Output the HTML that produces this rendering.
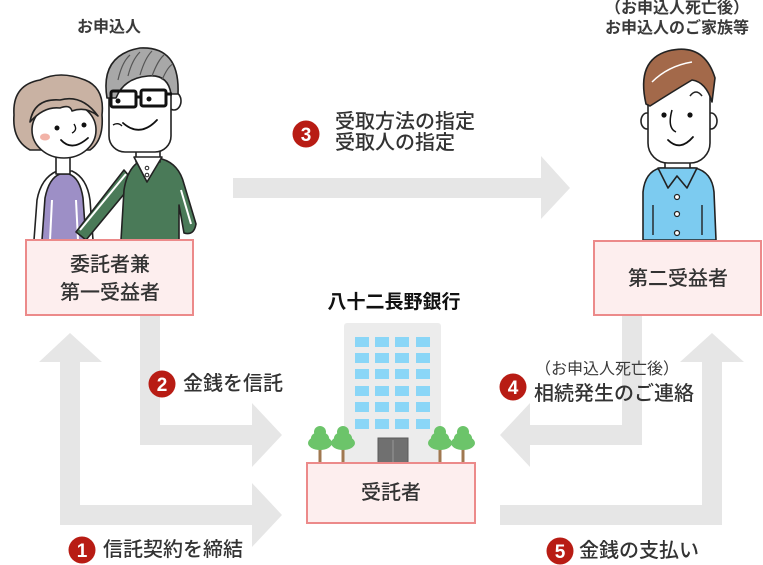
<!DOCTYPE html>
<html>
<head>
<meta charset="utf-8">
<style>
  html,body{margin:0;padding:0;background:#fff;}
  #wrap{position:relative;width:763px;height:565px;overflow:hidden;background:#fff;
    font-family:"Liberation Sans","Noto Sans CJK JP",sans-serif;color:#333;}
  svg{position:absolute;left:0;top:0;}
  .t{position:absolute;white-space:nowrap;font-size:20px;line-height:20px;color:#333;font-weight:500;}
  .s{position:absolute;white-space:nowrap;font-size:16px;line-height:16px;color:#3a3a3a;font-weight:bold;}
  .c{text-align:center;}
</style>
</head>
<body>
<div id="wrap">
<svg width="763" height="565" viewBox="0 0 763 565">
  <!-- gray arrows -->
  <g fill="#e6e6e6">
    <polygon points="233,178 541,178 541,156 570,188 541,219 541,198 233,198"/>
    <polygon points="140,316 160,316 160,425 252,425 252,403 282,435 252,467 252,445 140,445"/>
    <polygon points="70,333 102,362 80,362 80,505 252,505 252,483 282,515 252,547 252,525 60,525 60,362 39,362"/>
    <polygon points="622,316 642,316 642,445 530,445 530,467 500,435 530,403 530,425 622,425"/>
    <polygon points="500,505 702,505 702,362 680,362 712,333 744,362 722,362 722,525 500,525"/>
  </g>

  <!-- Woman -->
  <g stroke="#222" stroke-width="1.6" stroke-linejoin="round">
    <path d="M34,240 L37,200 Q41,178 57,171 L72,171 Q87,178 90,200 L93,240 Z" fill="#fff"/>
    <path d="M42,240 L45,198 Q49,178 60,174 L69,174 Q80,178 83,198 L86,240 Z" fill="#9d8fc6"/>
    <path d="M50,240 L52,200" stroke="#fff" stroke-width="2"/>
    <path d="M78,240 L76,200" stroke="#fff" stroke-width="2"/>
    <rect x="56" y="152" width="14" height="22" fill="#fff"/>
    <path d="M14,115 Q12,85 40,80 Q60,70 85,80 Q105,88 102,115 Q104,140 90,150 L30,150 Q12,140 14,115 Z" fill="#c9b2a3"/>
    <ellipse cx="64" cy="130" rx="32" ry="28" fill="#fff"/>
    <path d="M30,122 Q34,98 60,100 Q82,94 98,116 Q86,106 72,111 Q70,104 60,108 Q44,106 30,122 Z" fill="#c9b2a3"/>
  </g>
  <ellipse cx="45" cy="137" rx="5" ry="3.5" fill="#f2b3a8"/>
  <circle cx="57" cy="128" r="2.5" fill="#111"/>
  <circle cx="84" cy="125" r="2.5" fill="#111"/>
  <path d="M61,140 Q72,152 88,138" fill="none" stroke="#111" stroke-width="1.8" stroke-linecap="round"/>
  <path d="M74,124 Q78,130 72,133" fill="none" stroke="#111" stroke-width="1.4"/>

  <!-- Man -->
  <g stroke="#222" stroke-width="1.6" stroke-linejoin="round">
    <path d="M76,232 L124,170 L134,182 L86,240 Z" fill="#4a7a58"/>
    <path d="M80,230 L126,174" stroke="#fff" stroke-width="2"/>
    <path d="M121,240 L124,190 Q128,164 145,159 L162,159 Q179,164 184,184 L196,224 Q194,236 184,233 L179,205 L179,240 Z" fill="#4a7a58"/>
    <path d="M181,190 L191,224" stroke="#fff" stroke-width="2"/>
    <rect x="136" y="142" width="24" height="20" fill="#fff"/>
    <path d="M134,157 L147,182 L162,157 Z" fill="#fff"/>
    <ellipse cx="174" cy="101" rx="7" ry="9" fill="#fff"/>
    <rect x="109" y="68" width="62" height="84" rx="16" fill="#fff"/>
    <path d="M107,98 Q100,55 140,48 Q180,46 178,94 L171,94 Q168,74 148,76 Q124,78 116,98 Z" fill="#a8a8a8"/>
  </g>
  <g stroke="#555" stroke-width="1.2" fill="none">
    <path d="M118,80 Q122,62 130,55"/><path d="M128,76 Q132,60 140,52"/>
    <path d="M140,75 Q145,58 152,51"/><path d="M152,76 Q158,60 164,55"/>
    <path d="M162,80 Q168,66 173,64"/>
  </g>
  <g stroke="#111" stroke-width="3" fill="none">
    <rect x="111" y="91" width="25" height="16" rx="2"/>
    <rect x="141" y="90" width="25" height="16" rx="2"/>
    <path d="M136,97 L141,97"/><path d="M166,94 L172,94"/>
  </g>
  <circle cx="118" cy="101" r="2.5" fill="#111"/>
  <circle cx="149" cy="99" r="2.5" fill="#111"/>
  <path d="M123,123 Q140,138 157,120" fill="none" stroke="#111" stroke-width="1.8" stroke-linecap="round"/>
  <path d="M113,125 Q118,122 122,126" fill="none" stroke="#111" stroke-width="1.4"/>
  <circle cx="147" cy="168" r="1.8" fill="#fff" stroke="#222"/>
  <circle cx="147" cy="175" r="1.8" fill="#fff" stroke="#222"/>

  <!-- Young man -->
  <g stroke="#222" stroke-width="1.6" stroke-linejoin="round">
    <path d="M643,240 L643,192 Q645,172 660,168 L695,168 Q712,172 714,192 L716,240 Z" fill="#7ccbf0"/>
    <rect x="665" y="150" width="25" height="20" fill="#fff"/>
    <path d="M658,168 L668,188 L677,176 L687,188 L697,168 Z" fill="#7ccbf0"/>
    <ellipse cx="647" cy="121" rx="6" ry="8" fill="#fff"/>
    <ellipse cx="711" cy="121" rx="6" ry="8" fill="#fff"/>
    <rect x="648" y="60" width="62" height="103" rx="20" fill="#fff"/>
    <path d="M646,104 Q636,60 668,51 Q704,42 715,78 L712,102 Q706,82 692,80 Q672,92 650,106 Z" fill="#a3694a"/>
    <path d="M690,96 Q696,88 702,96" fill="none"/>
  </g>
  <path d="M652,82 Q668,66 692,62" fill="none" stroke="#fff" stroke-width="1.5"/>
  <circle cx="664" cy="115" r="2.6" fill="#111"/>
  <circle cx="690" cy="115" r="2.6" fill="#111"/>
  <path d="M672,110 Q667,128 676,132" fill="none" stroke="#111" stroke-width="1.5"/>
  <path d="M668,140 Q680,152 693,137" fill="none" stroke="#111" stroke-width="1.8" stroke-linecap="round"/>
  <g fill="#fff" stroke="#222" stroke-width="1.2">
    <circle cx="677" cy="197" r="2.5"/><circle cx="677" cy="214" r="2.5"/><circle cx="677" cy="233" r="2.5"/>
  </g>
  <path d="M653,205 L653,235 M702,205 L702,235" stroke="#222" stroke-width="1.4"/>

  <!-- Building -->
  <rect x="344" y="323" width="97" height="142" rx="3" fill="#ececec"/>
  <g fill="#8ad6f7">
    <rect x="355" y="337" width="14" height="10"/><rect x="375" y="337" width="14" height="10"/><rect x="395" y="337" width="14" height="10"/><rect x="416" y="337" width="14" height="10"/>
    <rect x="355" y="353" width="14" height="10"/><rect x="375" y="353" width="14" height="10"/><rect x="395" y="353" width="14" height="10"/><rect x="416" y="353" width="14" height="10"/>
    <rect x="355" y="369" width="14" height="10"/><rect x="375" y="369" width="14" height="10"/><rect x="395" y="369" width="14" height="10"/><rect x="416" y="369" width="14" height="10"/>
    <rect x="355" y="386" width="14" height="10"/><rect x="375" y="386" width="14" height="10"/><rect x="395" y="386" width="14" height="10"/><rect x="416" y="386" width="14" height="10"/>
    <rect x="355" y="402" width="14" height="10"/><rect x="375" y="402" width="14" height="10"/><rect x="395" y="402" width="14" height="10"/><rect x="416" y="402" width="14" height="10"/>
    <rect x="355" y="419" width="14" height="10"/><rect x="375" y="419" width="14" height="10"/><rect x="395" y="419" width="14" height="10"/><rect x="416" y="419" width="14" height="10"/>
  </g>
  <rect x="378" y="438" width="30" height="26" fill="#707070" stroke="#5a5a5a" stroke-width="1"/>
  <path d="M393,440 L393,464" stroke="#999" stroke-width="1"/>
  <!-- Trees -->
  <g>
    <g fill="#a07850"><rect x="318.5" y="446" width="3" height="17"/><rect x="341.5" y="446" width="3" height="17"/><rect x="438.5" y="446" width="3" height="17"/><rect x="461.5" y="446" width="3" height="17"/></g>
    <g fill="#6cc46a">
      <circle cx="320" cy="432" r="6"/><ellipse cx="320" cy="443" rx="12" ry="7"/><ellipse cx="320" cy="438" rx="9" ry="6"/>
      <circle cx="343" cy="432" r="6"/><ellipse cx="343" cy="443" rx="12" ry="7"/><ellipse cx="343" cy="438" rx="9" ry="6"/>
      <circle cx="440" cy="432" r="6"/><ellipse cx="440" cy="443" rx="12" ry="7"/><ellipse cx="440" cy="438" rx="9" ry="6"/>
      <circle cx="463" cy="432" r="6"/><ellipse cx="463" cy="443" rx="12" ry="7"/><ellipse cx="463" cy="438" rx="9" ry="6"/>
    </g>
  </g>

  <!-- Boxes -->
  <g fill="#fdeeee" stroke="#ec8a8a" stroke-width="2">
    <rect x="26" y="240" width="167" height="75"/>
    <rect x="594" y="241" width="167" height="74"/>
    <rect x="307" y="463" width="168" height="60"/>
  </g>

  <!-- Number circles -->
  <g fill="#b81c14">
    <circle cx="82" cy="550" r="13.5"/>
    <circle cx="162" cy="384" r="13.5"/>
    <circle cx="306" cy="134" r="13.5"/>
    <circle cx="513" cy="387" r="13.5"/>
    <circle cx="560" cy="551" r="13.5"/>
  </g>
  <g fill="#fff" font-family="Liberation Sans, sans-serif" font-weight="bold" font-size="19" text-anchor="middle">
    <text x="82" y="557">1</text>
    <text x="162" y="391">2</text>
    <text x="306" y="141">3</text>
    <text x="513" y="394">4</text>
    <text x="560" y="558">5</text>
  </g>
</svg>

<!-- top labels -->
<div class="s c" style="left:49px;width:120px;top:20px;">お申込人</div>
<div class="s c" style="left:597px;width:160px;top:1px;">（お申込人死亡後）</div>
<div class="s c" style="left:597px;width:160px;top:21px;">お申込人のご家族等</div>

<!-- box texts -->
<div class="t c" style="left:25px;width:170px;top:255px;">委託者兼</div>
<div class="t c" style="left:25px;width:170px;top:283px;">第一受益者</div>
<div class="t c" style="left:593px;width:170px;top:269px;">第二受益者</div>
<div class="t c" style="left:306px;width:170px;top:483px;">受託者</div>

<!-- bank name -->
<div class="t c" style="left:314px;width:160px;top:293px;font-size:19px;font-weight:bold;color:#111;">八十二長野銀行</div>

<!-- arrow labels -->
<div class="t" style="left:335px;top:112px;">受取方法の指定</div>
<div class="t" style="left:335px;top:133px;">受取人の指定</div>
<div class="t" style="left:183px;top:374px;">金銭を信託</div>
<div class="t" style="left:103px;top:540px;">信託契約を締結</div>
<div class="s" style="left:535px;top:362px;font-weight:normal;">（お申込人死亡後）</div>
<div class="t" style="left:534px;top:384px;">相続発生のご連絡</div>
<div class="t" style="left:579px;top:541px;">金銭の支払い</div>
</div>
</body>
</html>
